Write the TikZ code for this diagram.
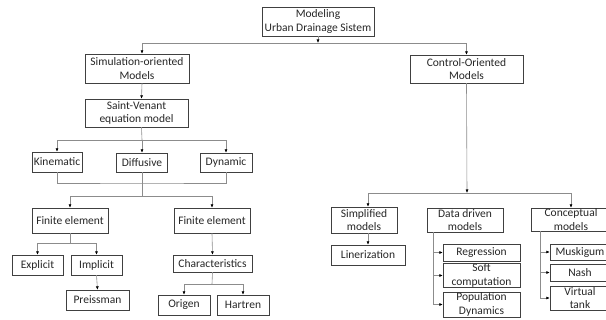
\documentclass[tikz,border=0pt]{standalone}
\usepackage{fontspec}
\setmainfont{Carlito}
\usetikzlibrary{arrows.meta}
\definecolor{boxline}{HTML}{404040}
\definecolor{connline}{HTML}{8C8C8C}
\definecolor{boxtext}{HTML}{262626}

\begin{document}
\begin{tikzpicture}[x=1pt, y=-1pt,
		box/.style={draw=boxline, rectangle, align=center, inner sep=0.5pt, text=boxtext,
			font=\fontsize{11.5}{13.5}\selectfont},
		conn/.style={draw=connline, line width=0.6pt},
		arr/.style={conn, -{Latex[color=black, length=3.5pt, width=3pt]}}]
		\useasboundingbox (0,0) rectangle (606,320);
		% root of the tree
		\node[box, minimum width=112, minimum height=29] (root) at (318,21.5) {Modeling\\Urban Drainage Sistem};
		\coordinate (j0) at (318,43);
		\draw[arr] (root) -- (j0);
		% simulation branch
		\node[box, minimum width=104, minimum height=29] (sim) at (137,68.5) {Simulation-oriented\\Models};
		\node[box, minimum width=103, minimum height=28] (sv) at (136.5,113) {Saint-Venant\\equation model};
		\draw[arr] (j0) -| ([xshift=5pt]sim.north);
		\draw[arr] ([xshift=5pt]sim.south) -- ([xshift=5pt]sv.north);
		% kinds of wave
		\node[box, minimum width=50, minimum height=20] (kin) at (57,162) {Kinematic};
		\node[box, minimum width=51, minimum height=19] (dif) at (142,162.5) {Diffusive};
		\node[box, minimum width=52, minimum height=19] (dyn) at (226,162.5) {Dynamic};
		\coordinate (j1) at (142,140);
		\draw[conn] ([xshift=5pt]sv.south) -- (j1);
		\foreach \n in {kin,dif,dyn}
			\draw[arr] (j1) -| (\n.north);
		% joining the three kinds
		\coordinate (j2) at (142,183);
		\coordinate (j3) at (142,196);
		\draw[conn] (kin.south) |- (j2) -| (dyn.south);
		\draw[conn] (dif.south) -- (j3);
		% numerical schemes
		\node[box, minimum width=76, minimum height=25] (fe1) at (70,220.5) {Finite element};
		\node[box, minimum width=76, minimum height=25] (fe2) at (212,220.5) {Finite element};
		\draw[arr] (j3) -| (fe1.north);
		\draw[arr] (j3) -| (fe2.north);
		% left scheme
		\node[box, minimum width=51, minimum height=20] (expl) at (37.5,265) {Explicit};
		\node[box, minimum width=51, minimum height=20] (impl) at (96.5,265) {Implicit};
		\node[box, minimum width=63, minimum height=20] (preis) at (97.5,300) {Preissman};
		\coordinate (j4) at (70,243);
		\draw[conn] (fe1.south) -- (j4);
		\draw[arr] (j4) -| (expl.north);
		\draw[arr] (j4) -| (impl.north);
		\draw[arr] (impl.south) -- (preis.north);
		% right scheme
		\node[box, minimum width=79, minimum height=17] (char) at (212.5,263.5) {Characteristics};
		\node[box, minimum width=52, minimum height=20] (orig) at (184,305) {Origen};
		\node[box, minimum width=52, minimum height=20] (hart) at (243,305) {Hartren};
		\coordinate (j5) at (212,284);
		\draw[arr] (fe2.south) -- (char.north);
		\draw[conn] (char.south) -- (j5);
		\draw[arr] (j5) -| (orig.north);
		\draw[arr] (j5) -| (hart.north);
		% control branch
		\node[box, minimum width=113, minimum height=28] (ctrl) at (466.5,69) {Control-Oriented\\Models};
		\coordinate (j6) at (467,193);
		\draw[arr] (j0) -| (ctrl.north);
		\draw[arr] (ctrl.south) -- (j6);
		% kinds of control model
		\node[box, minimum width=66, minimum height=26] (simp) at (364,220) {Simplified\\models};
		\node[box, minimum width=76, minimum height=24] (data) at (465,220) {Data driven\\models};
		\node[box, minimum width=80, minimum height=23] (conc) at (571,219.5) {Conceptual\\models};
		\node[box, minimum width=74, minimum height=20] (liner) at (368,255) {Linerization};
		\draw[arr] (j6) -| (liner.north |- simp.north);
		\draw[arr] (j6) -| (conc.north);
		\draw[arr] (liner.north |- simp.south) -- (liner.north);
		% data driven models
		\node[box, minimum width=77, minimum height=17] (regr) at (481.5,252.5) {Regression};
		\node[box, minimum width=77, minimum height=23] (soft) at (481.5,275.5) {Soft\\computation};
		\node[box, minimum width=77, minimum height=25] (pop) at (481.5,304.5) {Population\\Dynamics};
		\foreach \n in {regr,soft,pop}
			\draw[arr] ([xshift=-32pt]data.south) |- (\n.west);
		% conceptual models
		\node[box, minimum width=60, minimum height=16] (musk) at (580,252) {Muskigum};
		\node[box, minimum width=60, minimum height=17] (nash) at (580,272.5) {Nash};
		\node[box, minimum width=60, minimum height=24] (virt) at (580,298) {Virtual\\tank};
		\foreach \n in {musk,nash,virt}
			\draw[arr] ([xshift=-31pt]conc.south) |- (\n.west);
	\end{tikzpicture}
\end{document}
